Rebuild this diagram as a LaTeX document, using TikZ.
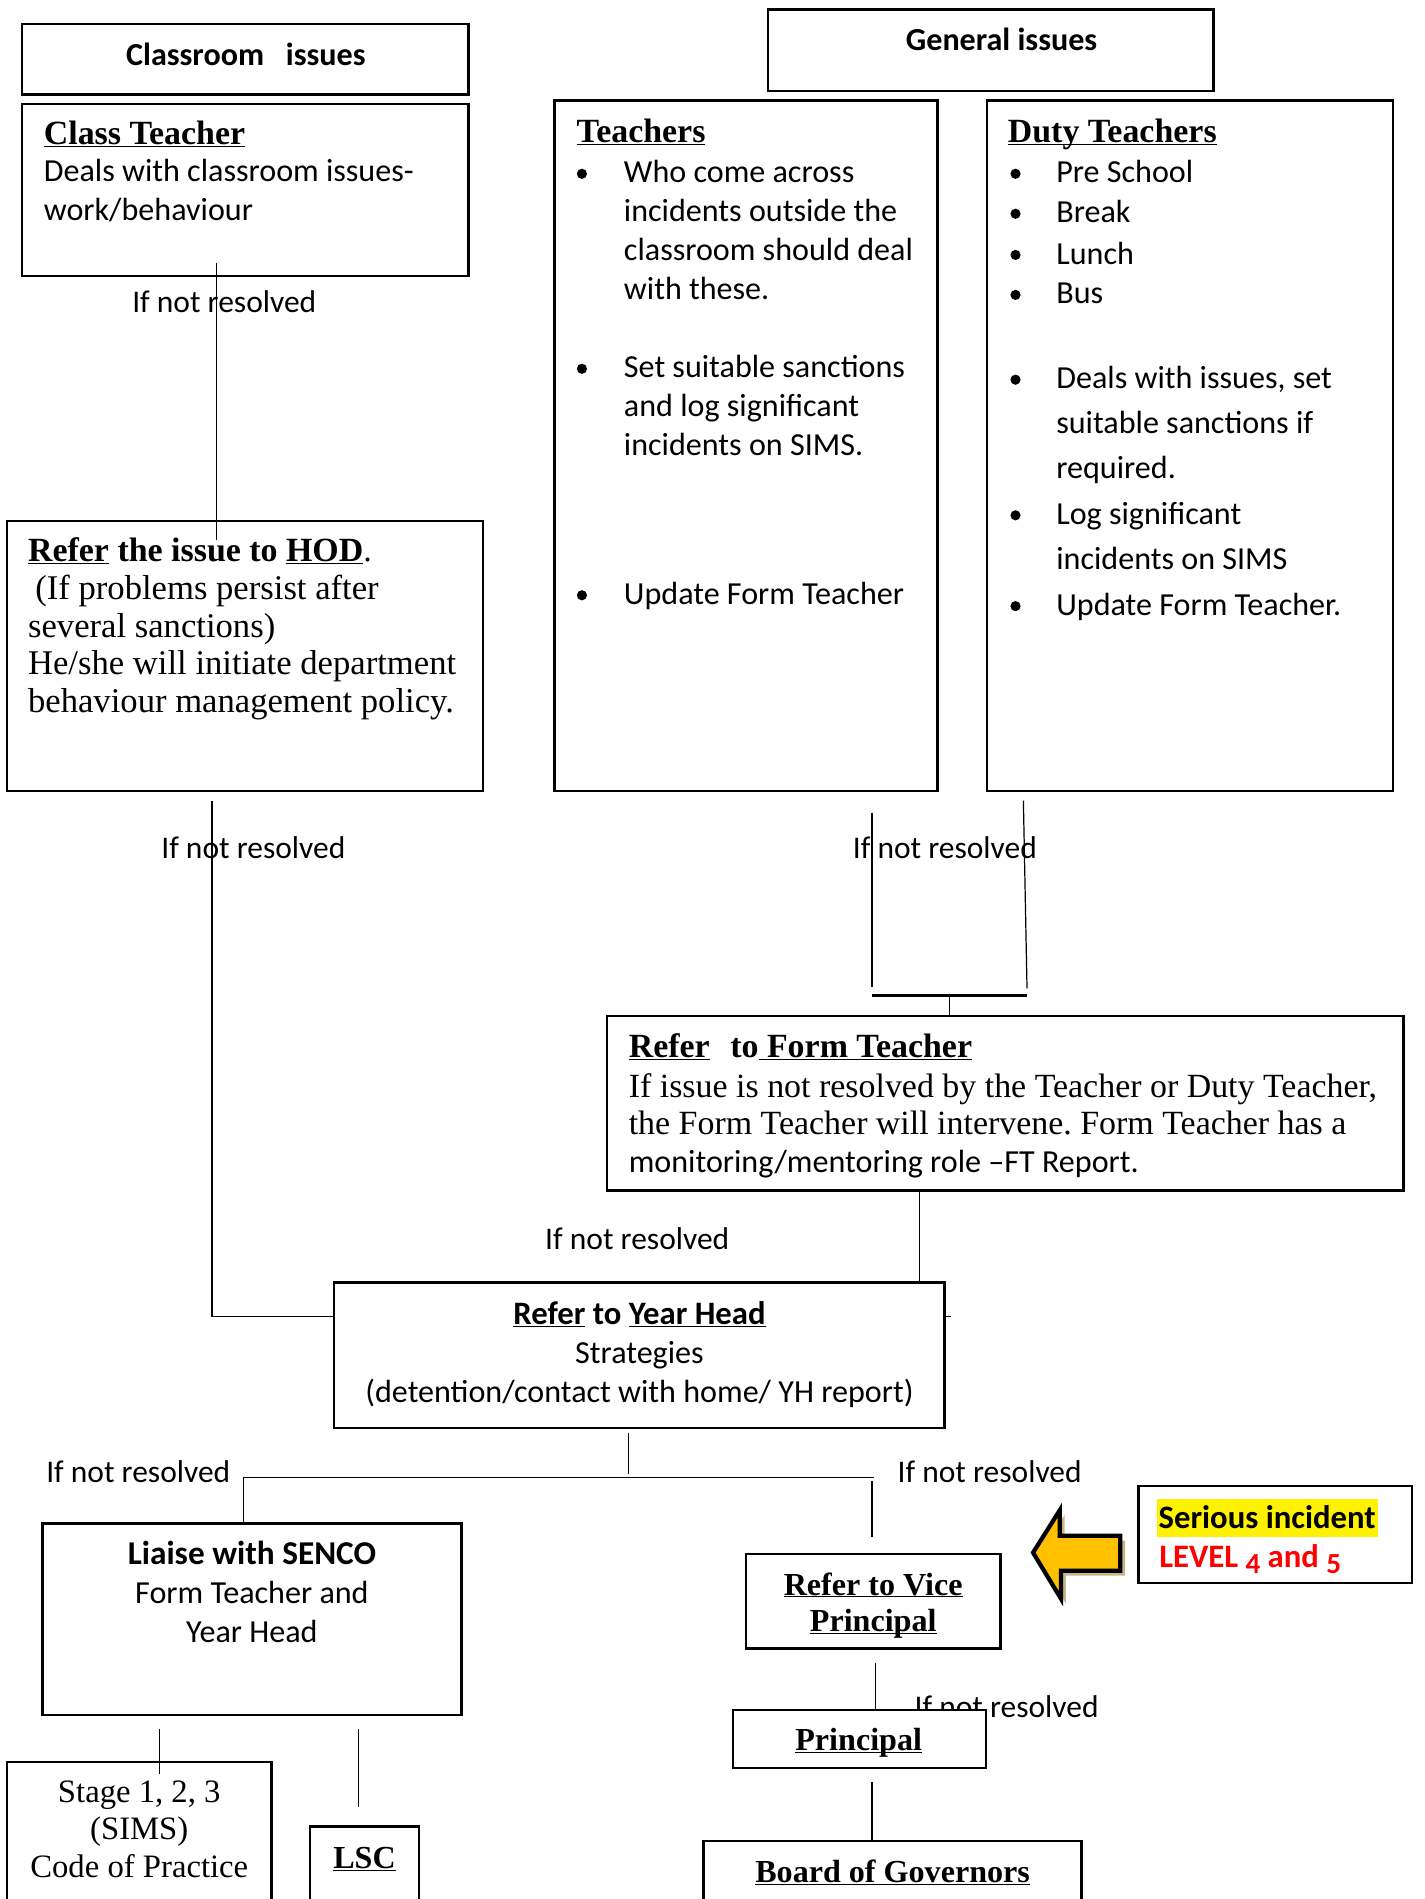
\documentclass[tikz,border=0pt]{standalone}
\usepackage{fontspec}
\setmainfont{Carlito}
\newfontfamily\cambria{Liberation Serif}
\usetikzlibrary{positioning}
\frenchspacing

\definecolor{arrowfill}{RGB}{255,192,0}
\definecolor{arrowshadow}{RGB}{196,182,138}

\newcommand{\uword}[1]{\underline{\smash{#1}}}
\newcommand{\lowdigit}[1]{\raisebox{-5pt}{\fontsize{24}{32}\selectfont #1}}

\tikzset{
    box/.style={draw, line width=2pt, inner sep=0pt, outer sep=0pt, anchor=north west},
    link/.style={line width=1pt},
    sanstext/.style={inner sep=0pt, anchor=base west, align=left, font=\fontsize{26.5}{32}\selectfont},
    seriftext/.style={inner sep=0pt, anchor=base west, align=left, font=\cambria\fontsize{28.6}{31}\selectfont},
    heading/.style={inner sep=0pt, anchor=base west, font=\cambria\bfseries\fontsize{28}{31}\selectfont},
    boxhead/.style={inner sep=0pt, anchor=base, align=center, font=\bfseries\fontsize{26.5}{32}\selectfont},
    timeshead/.style={inner sep=0pt, anchor=base, align=center, font=\cambria\bfseries\fontsize{26.5}{30}\selectfont},
    ifnot/.style={inner sep=0pt, anchor=base west, font=\fontsize{26}{32}\selectfont},
}

\begin{document}
\begin{tikzpicture}[x=1pt, y=-1pt]
    \useasboundingbox (0,0) rectangle (1176,1568);
    \clip (0,0) rectangle (1176,1568);

    % if not resolved labels
    \foreach \x/\y [count=\i] in {109/258, 133/709, 704/709, 450/1032, 38/1224, 741/1224, 755/1418}
        \node[ifnot] (notres\i) at (\x,\y) {If not resolved};

    % boxes
    \node[box, minimum width=369pt, minimum height=58pt] (classroom) at (18,20) {};
    \node[box, minimum width=368pt, minimum height=67pt] (general) at (634,8) {};
    \node[box, minimum width=369pt, minimum height=142pt] (classteacher) at (18,86) {};
    \node[box, minimum width=316pt, minimum height=570pt] (teachers) at (458,83) {};
    \node[box, minimum width=335pt, minimum height=570pt] (duty) at (815,83) {};
    \node[box, minimum width=393pt, minimum height=223pt] (hod) at (6,430) {};
    \node[box, minimum width=658pt, minimum height=144pt] (formteacher) at (501,839) {};
    \node[box, minimum width=504pt, minimum height=120pt] (yearhead) at (276,1059) {};
    \node[box, minimum width=346pt, minimum height=158pt] (senco) at (35,1258) {};
    \node[box, minimum width=218pt, minimum height=140pt] (stage) at (6,1455) {};
    \node[box, minimum width=90pt, minimum height=90pt] (lsc) at (256,1508) {};
    \node[box, minimum width=210pt, minimum height=78pt] (vp) at (616,1283) {};
    \node[box, fill=white, minimum width=209pt, minimum height=48pt] (principal) at (605,1412) {};
    \node[box, minimum width=312pt, minimum height=90pt] (board) at (581,1520) {};
    \node[box, minimum width=226pt, minimum height=80pt] (serious) at (940,1227) {};

    % box texts (multi-line nodes sit on their last line)
    \node[boxhead] (classroomtxt) at (203,54) {Classroom\ \ \ issues};
    \node[boxhead] (generaltxt) at (827,42) {General issues};

    \node[heading] (ctname) at (36,119) {\uword{Class Teacher}};
    \node[sanstext] (ctdesc) at (36,182) {Deals with classroom issues-\\work/behaviour};

    \node[heading] (tname) at (476,118) {\uword{Teachers}};
    \node[sanstext] (tcome) at (515,247) {Who come across\\incidents outside the\\classroom should deal\\with these.};
    \node[sanstext] (tset) at (515,376) {Set suitable sanctions\\and log significant\\incidents on SIMS.};
    \node[sanstext] (tupdate) at (515,499) {Update Form Teacher};
    \foreach \y in {151,312,499}
        \fill (480.5,\y-7.5) circle (4.2);

    \node[heading] (dname) at (832,118) {\uword{Duty Teachers}};
    \foreach \w/\y in {Pre School/151, Break/184, Lunch/218, Bus/251}
        \node[sanstext] (duty\y) at (872,\y) {\w};
    \node[sanstext, font=\fontsize{26.5}{37}\selectfont] (ddeal) at (872,395) {Deals with issues, set\\suitable sanctions if\\required.};
    \node[sanstext, font=\fontsize{26.5}{37}\selectfont] (dlog) at (872,470) {Log significant\\incidents on SIMS};
    \node[sanstext] (dupdate) at (872,508) {Update Form Teacher.};
    \foreach \y in {151,184,218,251,321,433,508}
        \fill (838.5,\y-7.5) circle (4.2);

    \node[heading] (hodname) at (23,464) {\uword{Refer} the issue to \uword{HOD}\mdseries.};
    \node[seriftext] (hoddesc) at (23,588) {\hspace*{6pt}(If problems persist after\\several sanctions)\\He/she will initiate department\\behaviour management policy.};

    \node[heading] (ftname) at (519,873) {\uword{Refer}\hspace{17pt}to\uword{\ Form Teacher}};
    \node[seriftext, font=\cambria\fontsize{28}{31}\selectfont] (ftdesc) at (519,937) {If issue is not resolved by the Teacher or Duty Teacher,\\the Form Teacher will intervene. Form Teacher has a};
    \node[sanstext] (ftrole) at (519,968) {monitoring/mentoring role –FT Report.};

    \node[boxhead, font=\bfseries\fontsize{27}{32}\selectfont] (yhname) at (528,1094) {\uword{Refer} to \uword{Year Head}};
    \node[boxhead, font=\fontsize{26.5}{32}\selectfont] (yhdesc) at (528,1158) {Strategies\\(detention/contact with home/ YH report)};

    \node[boxhead, font=\bfseries\fontsize{27.5}{32}\selectfont] (senconame) at (208,1292) {Liaise with SENCO};
    \node[boxhead, font=\fontsize{26.5}{32}\selectfont] (sencodesc) at (208,1356) {Form Teacher and\\Year Head};

    \node[boxhead, font=\cambria\fontsize{27}{31}\selectfont] (stagedesc) at (115,1550) {Stage 1, 2, 3\\(SIMS)\\Code of Practice};
    \node[timeshead] (lsctxt) at (301,1543) {\uword{LSC}};
    \node[timeshead] (vptxt) at (721,1347) {\uword{Refer to Vice}\\\uword{Principal}};
    \node[timeshead] (principaltxt) at (709,1445) {\uword{Principal}};
    \node[timeshead] (boardtxt) at (737,1554) {\uword{Board of Governors}};

    \node[inner xsep=1.5pt, inner ysep=0pt, anchor=base west, fill=yellow, text height=24pt, text depth=7pt,
        font=\bfseries\fontsize{27}{32}\selectfont] (serioustxt) at (955,1262) {Serious incident};
    \node[inner sep=0pt, anchor=base west, text=red,
        font=\bfseries\fontsize{27}{32}\selectfont] (leveltxt) at (957,1294) {LEVEL \lowdigit{4} and \lowdigit{5}};

    % arrow pointing at vice principal
    \fill[arrowshadow] (857,1286) -- (879,1251) -- (879,1272) -- (929,1272) -- (929,1301) -- (880,1301) -- (880,1324) -- cycle;
    \draw[line width=3.5pt, fill=arrowfill, line join=miter] (853,1282) -- (875,1247) -- (875,1268) -- (925,1268) -- (925,1297) -- (876,1297) -- (876,1320) -- cycle;

    % connectors
    \draw[link] ([xshift=161pt, yshift=11pt]classteacher.south west) -- ([xshift=173pt, yshift=-16pt]hod.north west);
    \draw[link] ([xshift=169pt, yshift=-8pt]hod.south west) |- ([yshift=-28pt]yearhead.north west);
    \draw[link] ([yshift=-28pt]yearhead.north east) -- ++(5,0);
    \draw[link] ([xshift=262pt, yshift=-18pt]teachers.south west) -- ++(0,144);
    \draw[link] ([xshift=30pt, yshift=-8pt]duty.south west) -- ++(3,155);
    \coordinate (ftjoin) at ([xshift=283pt, yshift=17pt]formteacher.north west);
    \draw[link, line width=2pt] ([xshift=-64pt]ftjoin) -- ([xshift=64pt]ftjoin);
    \draw[link] (ftjoin) -- (ftjoin |- formteacher.north);
    \draw[link] ([xshift=258pt]formteacher.south west) -- ([xshift=483pt]yearhead.north west);
    \draw[link] ([xshift=243pt, yshift=-4pt]yearhead.south west) -- ++(0,34);
    \draw[link] ([xshift=166pt]senco.north west) -- ++(0,-38) -- ++(521,0);
    \draw[link] ([xshift=104pt, yshift=14pt]vp.north west) -- ++(0,-46);
    \draw[link] ([xshift=97pt, yshift=-12pt]senco.south west) -- ([xshift=126pt, yshift=-10pt]stage.north west);
    \draw[link] ([xshift=261pt, yshift=-12pt]senco.south west) -- ([xshift=40pt, yshift=16pt]lsc.north west);
    \draw[link] ([xshift=107pt, yshift=-12pt]vp.south west) -- ([xshift=118pt]principal.north west);
    \draw[link] ([xshift=115pt, yshift=-11pt]principal.south west) -- ([xshift=139pt]board.north west);
\end{tikzpicture}
\end{document}
